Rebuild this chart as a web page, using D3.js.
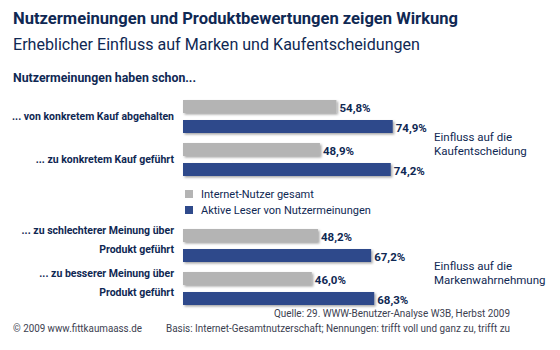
<!DOCTYPE html>
<html>
<head>
<meta charset="utf-8">
<script src="https://cdn.jsdelivr.net/npm/d3@7"></script>
<style>
  body { margin: 0; background: #fff; }
  svg { display: block; font-family: Roboto, "Open Sans", sans-serif; }
  .navy { fill: #0f2853; }
</style>
</head>
<body>
<div id="chart"></div>
<script>
// data
const categories = [
    ["... von konkretem Kauf abgehalten"],
    ["... zu konkretem Kauf geführt"],
    ["... zu schlechterer Meinung über", "Produkt geführt"],
    ["... zu besserer Meinung über", "Produkt geführt"]
];
const slots = ["kauf1", "kauf2", "legende", "marke1", "marke2"];
const categorySlots = ["kauf1", "kauf2", "marke1", "marke2"];
const seriesNames = ["Internet-Nutzer gesamt", "Aktive Leser von Nutzermeinungen"];
const internetUsers = [54.8, 48.9, 48.2, 46.0];
const activeReaders = [74.9, 74.2, 67.2, 68.3];
const groupLabels = [["Einfluss auf die", "Kaufentscheidung"], ["Einfluss auf die", "Markenwahrnehmung"]];
const groupSlots = [["kauf1", "kauf2"], ["marke1", "marke2"]];

const title = "Nutzermeinungen und Produktbewertungen zeigen Wirkung";
const subtitle = "Erheblicher Einfluss auf Marken und Kaufentscheidungen";
const sectionLabel = "Nutzermeinungen haben schon...";
const sourceLine = "Quelle: 29. WWW-Benutzer-Analyse W3B, Herbst 2009";
const basisLine = "Basis: Internet-Gesamtnutzerschaft; Nennungen: trifft voll und ganz zu, trifft zu";
const copyright = "© 2009 www.fittkaumaass.de";

const width = 560, height = 350;
const colors = ["#b4b4b4", "#2f4a8b"];

const de = d3.formatLocale({decimal: ",", thousands: ".", grouping: [3], currency: ["", "€"]});
const fmt = v => de.format(".1f")(v) + "%";

const svg = d3.select("#chart").append("svg")
    .attr("width", width)
    .attr("height", height);

// soft shadow under the bars
const filter = svg.append("defs").append("filter")
    .attr("id", "shadow")
    .attr("x", "-5%").attr("y", "-30%").attr("width", "115%").attr("height", "180%");
filter.append("feDropShadow")
    .attr("dx", 1.5).attr("dy", 1.5)
    .attr("stdDeviation", 1)
    .attr("flood-color", "#000")
    .attr("flood-opacity", 0.35);

// scales
const x = d3.scaleLinear().domain([0, 100]).range([183, 463]);
const y = d3.scalePoint().domain(slots).range([100, 272]);
const ySeries = d3.scaleBand().domain(seriesNames).range([0, 33]).paddingInner(0.35);

const rows = categorySlots.map((s, i) => ({
    slot: s,
    lines: categories[i],
    values: [internetUsers[i], activeReaders[i]]
}));

// titles
function fitText(sel, w) {
    // squeeze long lines into the same width as the original
    sel.attr("textLength", w).attr("lengthAdjust", "spacingAndGlyphs");
}

svg.append("text").attr("class", "navy")
    .attr("x", 13).attr("y", 24)
    .attr("font-size", 17).attr("font-weight", 700)
    .text(title).call(fitText, 445);

svg.append("text").attr("class", "navy")
    .attr("x", 13).attr("y", 50)
    .attr("font-size", 16.5)
    .text(subtitle).call(fitText, 407);

svg.append("text").attr("class", "navy")
    .attr("x", 13).attr("y", 82)
    .attr("font-size", 12.5).attr("font-weight", 700)
    .text(sectionLabel).call(fitText, 183);

// bars
const row = svg.selectAll(".row")
    .data(rows)
    .enter().append("g")
    .attr("class", "row")
    .attr("transform", d => `translate(0,${y(d.slot)})`);

row.selectAll("rect")
    .data(d => d.values.map((v, j) => ({v: v, s: seriesNames[j], j: j})))
    .enter().append("rect")
    .attr("x", x(0))
    .attr("y", d => ySeries(d.s))
    .attr("width", d => x(d.v) - x(0))
    .attr("height", ySeries.bandwidth())
    .attr("fill", d => colors[d.j])
    .attr("filter", "url(#shadow)");

row.selectAll(".value")
    .data(d => d.values.map((v, j) => ({v: v, s: seriesNames[j]})))
    .enter().append("text")
    .attr("class", "value navy")
    .attr("x", d => x(d.v) + 3)
    .attr("y", d => ySeries(d.s) + ySeries.bandwidth() - 1)
    .attr("font-size", 11.5).attr("font-weight", 700)
    .text(d => fmt(d.v));

// category labels
row.append("text")
    .attr("class", "navy")
    .attr("text-anchor", "end")
    .attr("font-size", 10.5).attr("font-weight", 700)
    .selectAll("tspan")
    .data(d => d.lines.map((l, k) => ({l: l, k: k, n: d.lines.length})))
    .enter().append("tspan")
    .attr("x", 174)
    .attr("y", d => d.n === 1 ? 20 : 5 + d.k * 18.5)
    .text(d => d.l);

// group annotations on the right
svg.selectAll(".group")
    .data(groupLabels)
    .enter().append("text")
    .attr("class", "group navy")
    .attr("font-size", 11.5)
    .each(function(d, i) {
        const mid = (y(groupSlots[i][0]) + y(groupSlots[i][1]) + 33) / 2;
        d3.select(this).selectAll("tspan")
            .data(d)
            .enter().append("tspan")
            .attr("x", 434)
            .attr("y", (l, k) => mid + 3 + k * 13.5)
            .text(l => l);
    });

// legend
const legend = svg.append("g")
    .attr("transform", `translate(185,${y("legende") + 4})`);

const item = legend.selectAll("g")
    .data(seriesNames)
    .enter().append("g")
    .attr("transform", (d, i) => `translate(0,${i * 16})`);

item.append("rect")
    .attr("width", 8).attr("height", 8)
    .attr("fill", (d, i) => colors[i]);

item.append("text")
    .attr("class", "navy")
    .attr("x", 16).attr("y", 8)
    .attr("font-size", 11)
    .text(d => d);

// footer
svg.append("text")
    .attr("x", 510).attr("y", 317)
    .attr("text-anchor", "end")
    .attr("font-size", 10.5).attr("fill", "#3c4150")
    .text(sourceLine).call(fitText, 236);

svg.append("text")
    .attr("x", 510).attr("y", 332)
    .attr("text-anchor", "end")
    .attr("font-size", 10.5).attr("fill", "#3c4150")
    .text(basisLine).call(fitText, 344);

svg.append("text")
    .attr("x", 13).attr("y", 332)
    .attr("font-size", 10.5).attr("fill", "#3c4150")
    .text(copyright).call(fitText, 129);
</script>
</body>
</html>
